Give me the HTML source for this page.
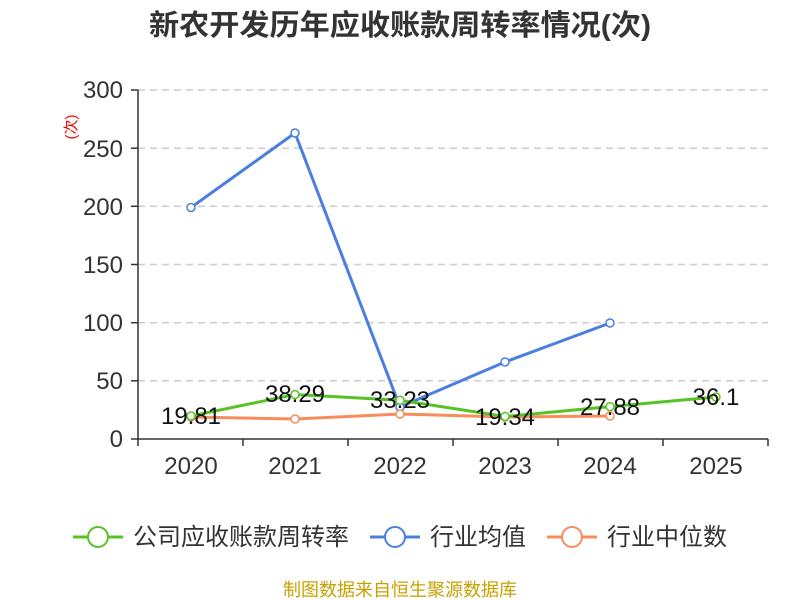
<!DOCTYPE html>
<html><head><meta charset="utf-8"><style>body{margin:0;background:#fff}svg{display:block}text{font-family:"Liberation Sans","Noto Sans CJK SC",sans-serif}</style></head><body>
<svg width="800" height="600" xmlns="http://www.w3.org/2000/svg">
<text x="400" y="35" text-anchor="middle" font-size="29" font-weight="bold" fill="#333" textLength="502" lengthAdjust="spacingAndGlyphs">新农开发历年应收账款周转率情况(次)</text>
<g stroke="#ccc" stroke-width="1.5" stroke-dasharray="7,5">
<line x1="138" y1="90" x2="768" y2="90"/><line x1="138" y1="148.2" x2="768" y2="148.2"/><line x1="138" y1="206.3" x2="768" y2="206.3"/><line x1="138" y1="264.5" x2="768" y2="264.5"/><line x1="138" y1="322.7" x2="768" y2="322.7"/><line x1="138" y1="380.8" x2="768" y2="380.8"/>
</g>
<g stroke="#333" stroke-width="1.5">
<line x1="138" y1="90" x2="138" y2="439"/><line x1="138" y1="439" x2="768" y2="439"/>
<line x1="131" y1="90" x2="138" y2="90"/><line x1="131" y1="148.2" x2="138" y2="148.2"/><line x1="131" y1="206.3" x2="138" y2="206.3"/><line x1="131" y1="264.5" x2="138" y2="264.5"/><line x1="131" y1="322.7" x2="138" y2="322.7"/><line x1="131" y1="380.8" x2="138" y2="380.8"/><line x1="131" y1="439" x2="138" y2="439"/>
<line x1="138" y1="439" x2="138" y2="446"/><line x1="243" y1="439" x2="243" y2="446"/><line x1="348" y1="439" x2="348" y2="446"/><line x1="453" y1="439" x2="453" y2="446"/><line x1="558" y1="439" x2="558" y2="446"/><line x1="663" y1="439" x2="663" y2="446"/><line x1="768" y1="439" x2="768" y2="446"/>
</g>
<g font-size="24" fill="#333" text-anchor="end">
<text x="123" y="98">300</text><text x="123" y="157">250</text><text x="123" y="215">200</text><text x="123" y="273">150</text><text x="123" y="331">100</text><text x="123" y="389">50</text><text x="123" y="447">0</text>
</g>
<text x="76" y="127" font-size="15" fill="red" transform="rotate(-90 76 127)" text-anchor="middle">(次)</text>
<g font-size="24" fill="#333" text-anchor="middle">
<text x="191" y="474">2020</text><text x="295" y="474">2021</text><text x="400" y="474">2022</text><text x="505" y="474">2023</text><text x="610" y="474">2024</text><text x="716" y="474">2025</text>
</g>
<polyline fill="none" stroke="#4a7fe0" stroke-width="3" points="191,207.5 295,133 400,407 505,362 610,323"/>
<polyline fill="none" stroke="#f98c5a" stroke-width="3" points="191,417 295,419 400,414 505,417 610,416"/>
<polyline fill="none" stroke="#57c322" stroke-width="3" points="191,416 295,394.5 400,400.3 505,416.5 610,406.6 716,397"/>
<g fill="#fff" stroke-width="1.5">
<g stroke="#4a7fe0"><circle cx="191" cy="207.5" r="4"/><circle cx="295" cy="133" r="4"/><circle cx="400" cy="407" r="4"/><circle cx="505" cy="362" r="4"/><circle cx="610" cy="323" r="4"/></g>
<g stroke="#f98c5a"><circle cx="191" cy="417" r="4"/><circle cx="295" cy="419" r="4"/><circle cx="400" cy="414" r="4"/><circle cx="505" cy="417" r="4"/><circle cx="610" cy="416" r="4"/></g>
<g stroke="#57c322"><circle cx="191" cy="416" r="4"/><circle cx="295" cy="394.5" r="4"/><circle cx="400" cy="400.3" r="4"/><circle cx="505" cy="416.5" r="4"/><circle cx="610" cy="406.6" r="4"/><circle cx="716" cy="397" r="4"/></g>
</g>
<g font-size="24" fill="#111" text-anchor="middle">
<text x="191" y="424">19.81</text><text x="295" y="402">38.29</text><text x="400" y="408">33.23</text><text x="505" y="425">19.34</text><text x="610" y="415">27.88</text><text x="716" y="405">36.1</text>
</g>
<g font-size="24" fill="#333">
<line x1="73" y1="537" x2="123" y2="537" stroke="#57c322" stroke-width="3"/><circle cx="98" cy="537" r="10" fill="#fff" stroke="#57c322" stroke-width="2"/>
<text x="133" y="545">公司应收账款周转率</text>
<line x1="370" y1="537" x2="420" y2="537" stroke="#4a7fe0" stroke-width="3"/><circle cx="395" cy="537" r="10" fill="#fff" stroke="#4a7fe0" stroke-width="2"/>
<text x="430" y="545">行业均值</text>
<line x1="547" y1="537" x2="597" y2="537" stroke="#f98c5a" stroke-width="3"/><circle cx="572" cy="537" r="10" fill="#fff" stroke="#f98c5a" stroke-width="2"/>
<text x="607" y="545">行业中位数</text>
</g>
<text x="400" y="596" font-size="18" fill="#c8a000" text-anchor="middle">制图数据来自恒生聚源数据库</text>
</svg>
</body></html>
